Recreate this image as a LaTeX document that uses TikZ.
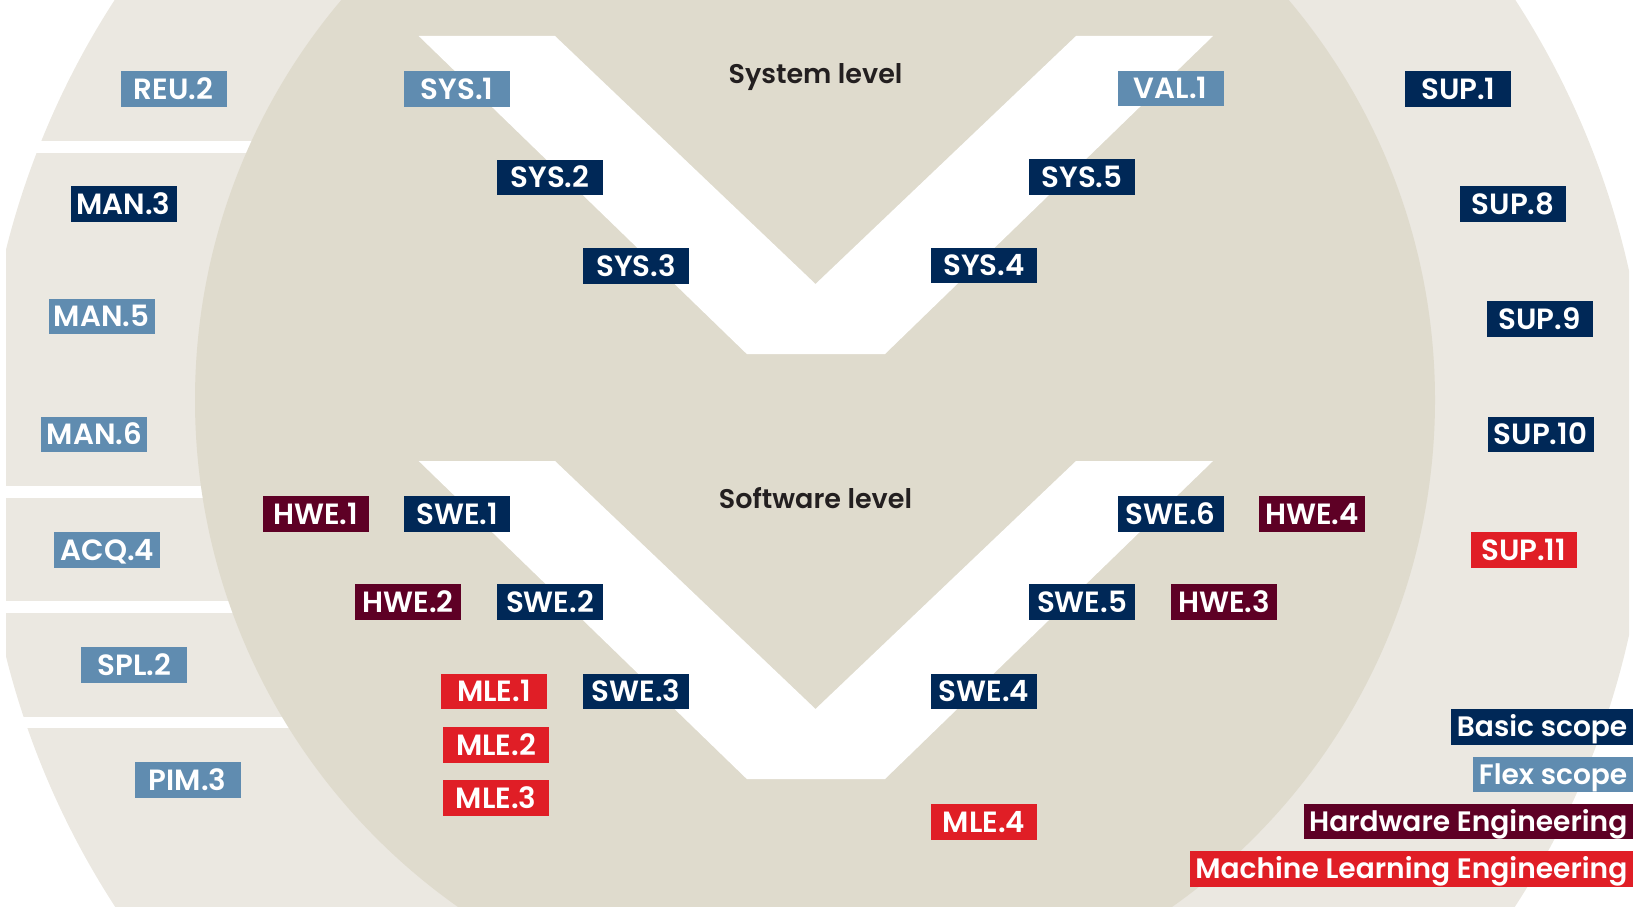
\documentclass[tikz,border=0pt]{standalone}
\usepackage{fontspec}
\setmainfont{Poppins}[BoldFont={Poppins SemiBold}]
\definecolor{navy}{RGB}{0,40,87}
\definecolor{flexblue}{RGB}{96,140,176}
\definecolor{maroon}{RGB}{94,0,37}
\definecolor{mlred}{RGB}{224,30,38}
\definecolor{innerbg}{RGB}{223,219,205}
\definecolor{ringbg}{RGB}{235,232,225}
\definecolor{titlegray}{RGB}{35,31,32}
\tikzset{
  box/.style={text=white, font=\bfseries\fontsize{29.3}{29.3}\selectfont, minimum width=106, minimum height=35.5, inner sep=0, text height=20.4, text depth=0},
  basic/.style={box, fill=navy},
  flex/.style={box, fill=flexblue},
  hw/.style={box, fill=maroon},
  ml/.style={box, fill=mlred},
  legend/.style={text=white, font=\bfseries\fontsize{28.1}{28.1}\selectfont, minimum height=35.5, inner xsep=5.5, inner ysep=0, text height=19.6, text depth=0, anchor=east},
  level/.style={text=titlegray, font=\bfseries\fontsize{27}{27}\selectfont, anchor=base},
  vshape/.style={fill=white}
}
\begin{document}
\begin{tikzpicture}[x=1pt,y=-1pt]
\useasboundingbox (0,0) rectangle (1633,907);
% outer ring
\begin{scope}
  \clip (6,0) rectangle (1629,907);
  \fill[ringbg] (815,453) circle (834);
\end{scope}
% white gaps between left segments
\fill[white] (0,141) rectangle (420,153);
\fill[white] (0,486) rectangle (420,498);
\fill[white] (0,601) rectangle (420,613);
\fill[white] (0,717) rectangle (420,728);
% inner circle
\begin{scope}
  \clip (0,0) rectangle (1633,907);
  \fill[innerbg] (815,400) circle (620);
\end{scope}
% V shapes
\fill[vshape] (418.7,36) -- (555,36) -- (815.5,284) -- (1076,36) -- (1213,36) -- (885,354) -- (746.8,354) -- cycle;
\fill[vshape] (418.7,461) -- (555,461) -- (815.5,709) -- (1076,461) -- (1213,461) -- (885,779) -- (746.8,779) -- cycle;
% level titles
\node[level] (syslevel) at (815.5,83) {System level};
\node[level] (swlevel) at (815.5,508) {Software level};
% left ring
\node[flex]  (reu2) at (173.5,89) {REU.2};
\node[basic] (man3) at (123.5,204) {MAN.3};
\node[flex]  (man5) at (101.5,316.3) {MAN.5};
\node[flex]  (man6) at (94.3,434.5) {MAN.6};
\node[flex]  (acq4) at (107.3,549.8) {ACQ.4};
\node[flex]  (spl2) at (134.3,665) {SPL.2};
\node[flex]  (pim3) at (187.5,780) {PIM.3};
% right ring
\node[basic] (sup1) at (1458.3,89) {SUP.1};
\node[basic] (sup8) at (1513,204) {SUP.8};
\node[basic] (sup9) at (1539.5,319) {SUP.9};
\node[basic] (sup10) at (1540.5,434.5) {SUP.10};
\node[ml]    (sup11) at (1523.7,550) {SUP.11};
% system V
\node[flex]  (sys1) at (457,89) {SYS.1};
\node[basic] (sys2) at (550,177.5) {SYS.2};
\node[basic] (sys3) at (636,266) {SYS.3};
\node[flex]  (val1) at (1170.6,88.5) {VAL.1};
\node[basic] (sys5) at (1082,177) {SYS.5};
\node[basic] (sys4) at (984,265.6) {SYS.4};
% software V
\node[hw]    (hwe1) at (315.5,514) {HWE.1};
\node[basic] (swe1) at (457,514) {SWE.1};
\node[hw]    (hwe2) at (408,602) {HWE.2};
\node[basic] (swe2) at (550,602) {SWE.2};
\node[ml]    (mle1) at (494,691.5) {MLE.1};
\node[basic] (swe3) at (636,691.5) {SWE.3};
\node[ml]    (mle2) at (496,745) {MLE.2};
\node[ml]    (mle3) at (496,798) {MLE.3};
\node[basic] (swe6) at (1170.6,514) {SWE.6};
\node[hw]    (hwe4) at (1312,514) {HWE.4};
\node[basic] (swe5) at (1082,602) {SWE.5};
\node[hw]    (hwe3) at (1224,602) {HWE.3};
\node[basic] (swe4) at (984,691.5) {SWE.4};
\node[ml]    (mle4) at (984,822) {MLE.4};
% legend
\node[legend, fill=navy]     (lgbasic) at (1633,727) {Basic scope};
\node[legend, fill=flexblue] (lgflex)  at (1633,774.5) {Flex scope};
\node[legend, fill=maroon]   (lghw)    at (1633,821.7) {Hardware Engineering};
\node[legend, fill=mlred]    (lgml)    at (1633,869) {Machine Learning Engineering};
\end{tikzpicture}
\end{document}
